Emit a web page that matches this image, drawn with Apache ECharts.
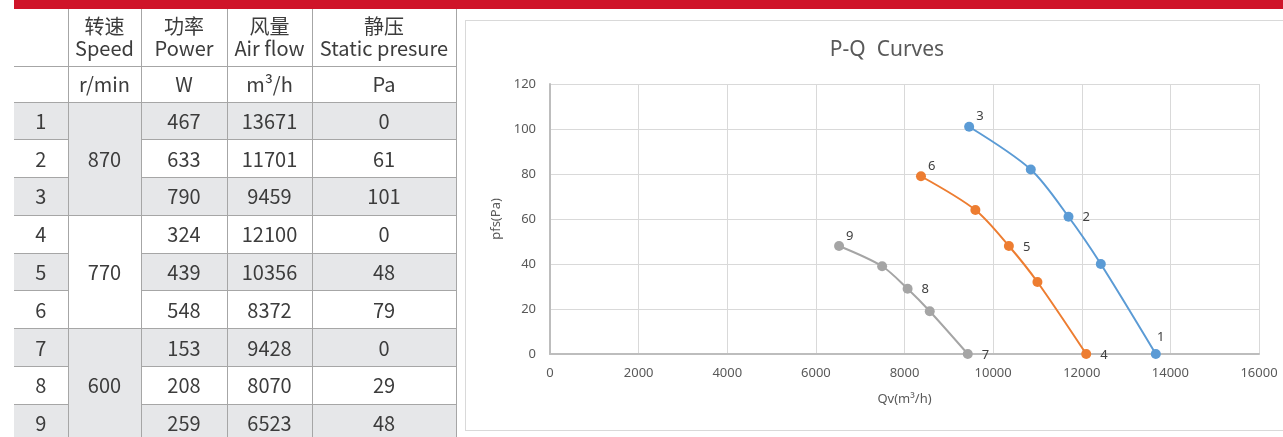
<!DOCTYPE html>
<html>
<head>
<meta charset="utf-8">
<script src="https://cdn.jsdelivr.net/npm/echarts@6/dist/echarts.min.js"></script>
<style>
  html, body { margin:0; padding:0; background:#fff; width:1283px; height:437px; overflow:hidden; }
  #redbar { position:absolute; left:14px; top:0; width:1269px; height:9px; background:#cf1429; }
  #frame { position:absolute; left:465px; top:20px; width:830px; height:411px; border:1px solid #d9d9d9; box-sizing:border-box; }
  #chart { position:absolute; left:0; top:0; width:1283px; height:437px; }
  #tbl { position:absolute; left:14px; top:9px; border-collapse:collapse; table-layout:fixed; width:442px; }
  #tbl td { border:1px solid #a6a6a6; padding:0; text-align:center; vertical-align:middle;
            font-family:"Noto Sans CJK SC", "Noto Sans", sans-serif; font-size:20px; color:#3c3c3c; line-height:22px; }
  #tbl td.c0 { border-left:none; }
  #tbl tr.h1 td { border-top:none; }
  #tbl .g { background:#e6e7e9; }
</style>
</head>
<body>
<div id="redbar"></div>
<div id="frame"></div>
<div id="chart"></div>
<table id="tbl"></table>
<script>
// ---------- table data ----------
const headerCn = ['转速', '功率', '风量', '静压'];
const headerEn = ['Speed', 'Power', 'Air flow', 'Static presure'];
const units = ['r/min', 'W', 'm³/h', 'Pa'];
const pointNo = [1, 2, 3, 4, 5, 6, 7, 8, 9];
const speeds = [870, 770, 600];
const power = [467, 633, 790, 324, 439, 548, 153, 208, 259];
const airflow = [13671, 11701, 9459, 12100, 10356, 8372, 9428, 8070, 6523];
const pressure = [0, 61, 101, 0, 48, 79, 0, 29, 48];

// extra (unlabelled) curve points, per speed group
const extraQ = [[12430, 10850], [11000, 9600], [8570, 7495]];
const extraP = [[40, 82], [32, 64], [19, 39]];

// axis settings
const xTicks = { min: 0, max: 16000, interval: 2000 };
const yTicks = { min: 0, max: 120, interval: 20 };

const colors = ['#5b9bd5', '#ed7d31', '#a5a5a5'];

// ---------- build table ----------
(function buildTable() {
  const tbl = document.getElementById('tbl');
  const colW = [54, 73, 86, 85, 144];
  let html = '<colgroup>' + colW.map(w => '<col style="width:' + w + 'px">').join('') + '</colgroup>';
  html += '<tr class="h1" style="height:57px"><td class="c0"></td>' +
    headerCn.map((c, i) => '<td>' + c + '<br>' + headerEn[i] + '</td>').join('') + '</tr>';
  html += '<tr style="height:36px"><td class="c0"></td>' + units.map(u => '<td>' + u + '</td>').join('') + '</tr>';
  pointNo.forEach((n, i) => {
    const g = (i % 2 === 0) ? ' g' : '';
    html += '<tr style="height:37.8px"><td class="c0' + g + '">' + n + '</td>';
    if (i % 3 === 0) {
      const grp = i / 3;
      html += '<td rowspan="3" class="' + (grp % 2 === 0 ? 'g' : '') + '">' + speeds[grp] + '</td>';
    }
    html += '<td class="' + g + '">' + power[i] + '</td><td class="' + g + '">' + airflow[i] +
            '</td><td class="' + g + '">' + pressure[i] + '</td></tr>';
  });
  tbl.innerHTML = html;
})();

// ---------- build chart ----------
const chart = echarts.init(document.getElementById('chart'), null, { renderer: 'canvas' });

function labelStyle(n, idxInGroup) {
  // idxInGroup: 0 = zero-pressure end, 1 = middle, 2 = top end
  const base = { show: true, formatter: String(n), color: '#404040', fontSize: 13, fontFamily: 'Noto Sans' };
  if (idxInGroup === 2) return Object.assign(base, { position: 'right', offset: [-3, -10] });
  if (idxInGroup === 0 && n === 1) return Object.assign(base, { position: 'top', offset: [5, 0] });
  return Object.assign(base, { position: 'right', offset: [4, 1] });
}

const series = speeds.map((s, g) => {
  const pts = [];
  for (let k = 0; k < 3; k++) {
    const i = g * 3 + k;
    pts.push({ value: [airflow[i], pressure[i]], label: labelStyle(pointNo[i], k) });
  }
  extraQ[g].forEach((q, j) => pts.push({ value: [q, extraP[g][j]], label: { show: false } }));
  pts.sort((a, b) => b.value[0] - a.value[0]);
  return {
    name: s + ' r/min',
    type: 'line',
    smooth: 0.3,
    symbol: 'circle',
    symbolSize: 10,
    data: pts,
    lineStyle: { color: colors[g], width: 2 },
    itemStyle: { color: colors[g] },
    emphasis: { disabled: true },
    z: 3 + g
  };
});

const axisText = { color: '#595959', fontSize: 13, fontFamily: 'Noto Sans' };

chart.setOption({
  animation: false,
  title: {
    text: 'P-Q  Curves',
    left: 882,
    top: 35,
    textAlign: 'center',
    textStyle: { color: '#595959', fontSize: 21, fontWeight: 'normal', fontFamily: 'Noto Sans' }
  },
  grid: { left: 550, right: 24, top: 84, bottom: 83, containLabel: false },
  xAxis: {
    type: 'value',
    min: xTicks.min, max: xTicks.max, interval: xTicks.interval,
    name: 'Qv(m³/h)',
    nameLocation: 'middle',
    nameGap: 39,
    nameTextStyle: axisText,
    axisLine: { show: true, lineStyle: { color: '#bdbdbd', width: 2 } },
    axisTick: { show: false },
    axisLabel: Object.assign({ margin: 13, formatter: v => String(v) }, axisText),
    splitLine: { show: true, lineStyle: { color: '#d9d9d9', width: 1 } }
  },
  yAxis: {
    type: 'value',
    min: yTicks.min, max: yTicks.max, interval: yTicks.interval,
    name: 'pfs(Pa)',
    nameLocation: 'middle',
    nameGap: 44,
    nameTextStyle: axisText,
    axisLine: { show: true, lineStyle: { color: '#bdbdbd', width: 2 } },
    axisTick: { show: false },
    axisLabel: Object.assign({ margin: 14, formatter: v => String(v) }, axisText),
    splitLine: { show: true, lineStyle: { color: '#d9d9d9', width: 1 } }
  },
  series: series
});
</script>
</body>
</html>
